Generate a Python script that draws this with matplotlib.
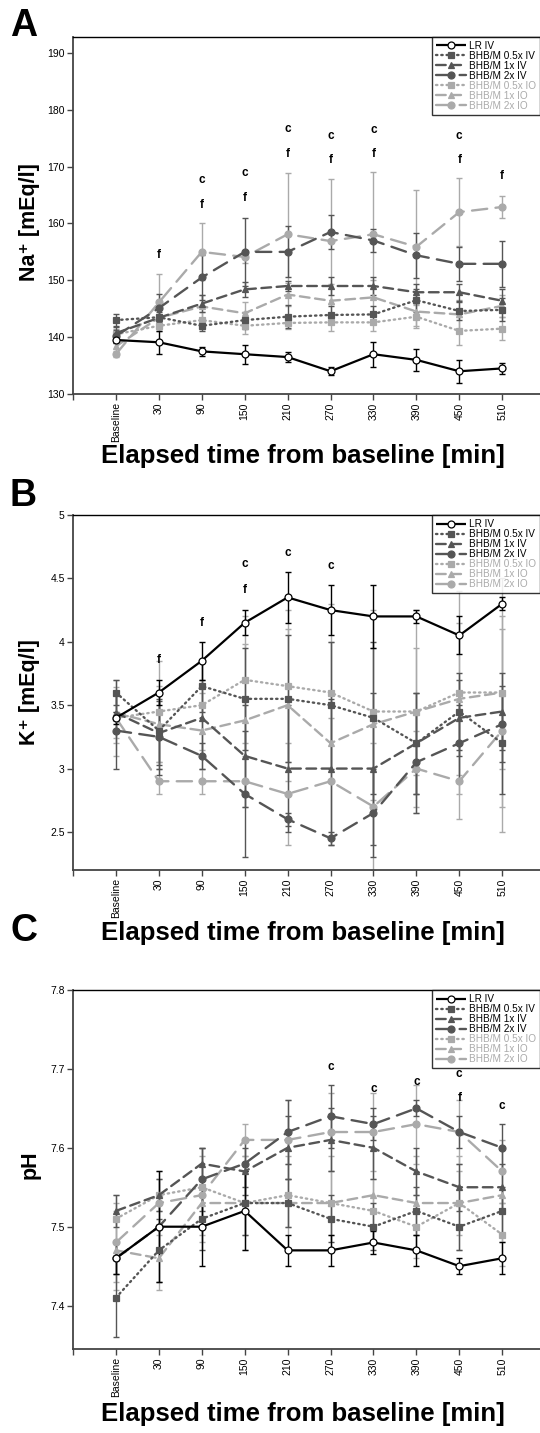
import matplotlib
matplotlib.use("Agg")
import matplotlib.pyplot as plt
import numpy as np

plt.rcParams['font.family'] = ['Liberation Sans', 'DejaVu Sans']
plt.rcParams['lines.scale_dashes'] = False

# ---------------- data ----------------
time_labels = ["Baseline", "30", "90", "150", "210", "270", "330", "390", "450", "510"]
series_names = ["LR IV", "BHB/M 0.5x IV", "BHB/M 1x IV", "BHB/M 2x IV",
                "BHB/M 0.5x IO", "BHB/M 1x IO", "BHB/M 2x IO"]

# Panel A: Na+
na_lr = [139.5, 139.1, 137.5, 137.0, 136.5, 134.0, 137.0, 136.0, 134.0, 134.5]
na_iv05 = [143.0, 143.5, 142.0, 143.0, 143.6, 143.9, 144.0, 146.5, 144.6, 144.8]
na_iv1 = [140.7, 143.4, 145.9, 148.4, 149.0, 149.0, 149.0, 147.9, 147.9, 146.4]
na_iv2 = [140.2, 145.1, 150.5, 155.0, 155.0, 158.5, 157.0, 154.4, 152.9, 152.9]
na_io05 = [140.5, 142.0, 143.0, 142.0, 142.5, 142.6, 142.6, 143.6, 141.1, 141.5]
na_io1 = [138.4, 143.4, 145.4, 144.2, 147.5, 146.4, 147.0, 144.5, 144.0, 145.5]
na_io2 = [137.0, 146.1, 155.0, 154.1, 158.1, 156.9, 158.1, 155.9, 162.0, 162.9]
na_lr_err = [0.5, 2.0, 0.8, 1.7, 0.9, 0.7, 2.2, 2.0, 2.0, 1.0]
na_iv05_err = [1.0, 1.0, 1.0, 1.5, 2.0, 1.5, 1.5, 2.0, 1.5, 2.0]
na_iv1_err = [1.0, 1.5, 1.5, 1.3, 0.8, 1.5, 1.5, 1.5, 1.5, 2.0]
na_iv2_err = [1.0, 2.5, 4.0, 6.0, 4.5, 3.0, 2.0, 4.0, 3.0, 4.0]
na_io05_err = [1.0, 1.0, 1.5, 1.5, 1.0, 1.5, 1.5, 2.0, 2.5, 2.0]
na_io1_err = [1.5, 2.0, 2.0, 2.0, 2.0, 3.0, 3.0, 2.5, 2.5, 2.0]
na_io2_err = [0.5, 5.0, 5.0, 1.0, 10.8, 11.0, 11.0, 10.0, 6.0, 2.0]
na_ann_idx = [1, 2, 2, 3, 3, 4, 4, 5, 5, 6, 6, 8, 8, 9]
na_ann_txt = ["f", "c", "f", "c", "f", "c", "f", "c", "f", "c", "f", "c", "f", "f"]
na_ann_val = [154.4, 167.6, 163.3, 168.8, 164.4, 176.7, 172.3, 175.4, 171.1, 176.5, 172.2, 175.4, 171.2, 168.4]

# Panel B: K+
k_lr = [3.4, 3.6, 3.85, 4.15, 4.35, 4.25, 4.2, 4.2, 4.05, 4.3]
k_iv05 = [3.6, 3.3, 3.65, 3.55, 3.55, 3.5, 3.4, 3.2, 3.45, 3.2]
k_iv1 = [3.44, 3.28, 3.4, 3.1, 3.0, 3.0, 3.0, 3.2, 3.4, 3.45]
k_iv2 = [3.3, 3.25, 3.1, 2.8, 2.6, 2.45, 2.65, 3.05, 3.2, 3.35]
k_io05 = [3.4, 3.45, 3.5, 3.7, 3.65, 3.6, 3.45, 3.45, 3.6, 3.6]
k_io1 = [3.44, 3.35, 3.3, 3.38, 3.5, 3.2, 3.35, 3.45, 3.55, 3.6]
k_io2 = [3.4, 2.9, 2.9, 2.9, 2.8, 2.9, 2.7, 3.0, 2.9, 3.3]
k_lr_err = [0.05, 0.1, 0.15, 0.1, 0.2, 0.2, 0.25, 0.05, 0.15, 0.05]
k_iv05_err = [0.1, 0.3, 0.2, 0.4, 0.5, 0.5, 0.6, 0.4, 0.3, 0.4]
k_iv1_err = [0.15, 0.25, 0.3, 0.4, 0.5, 0.55, 0.6, 0.4, 0.3, 0.3]
k_iv2_err = [0.3, 0.3, 0.1, 0.5, 0.05, 0.05, 0.35, 0.4, 0.3, 0.3]
k_io05_err = [0.3, 0.4, 0.35, 0.5, 0.6, 0.7, 0.8, 0.8, 0.8, 0.9]
k_io1_err = [0.2, 0.3, 0.3, 0.6, 0.6, 0.8, 0.6, 0.5, 0.6, 0.6]
k_io2_err = [0.2, 0.1, 0.1, 0.2, 0.4, 0.5, 0.5, 0.3, 0.3, 0.8]
k_ann_idx = [1, 2, 3, 3, 4, 5]
k_ann_txt = ["f", "f", "c", "f", "c", "c"]
k_ann_val = [3.86, 4.15, 4.61, 4.41, 4.70, 4.60]

# Panel C: pH
ph_lr = [7.46, 7.50, 7.50, 7.52, 7.47, 7.47, 7.48, 7.47, 7.45, 7.46]
ph_iv05 = [7.41, 7.47, 7.51, 7.53, 7.53, 7.51, 7.50, 7.52, 7.50, 7.52]
ph_iv1 = [7.52, 7.54, 7.58, 7.57, 7.60, 7.61, 7.60, 7.57, 7.55, 7.55]
ph_iv2 = [7.46, 7.50, 7.56, 7.58, 7.62, 7.64, 7.63, 7.65, 7.62, 7.60]
ph_io05 = [7.51, 7.54, 7.55, 7.53, 7.54, 7.53, 7.52, 7.50, 7.53, 7.49]
ph_io1 = [7.47, 7.46, 7.53, 7.53, 7.53, 7.53, 7.54, 7.53, 7.53, 7.54]
ph_io2 = [7.48, 7.53, 7.54, 7.61, 7.61, 7.62, 7.62, 7.63, 7.62, 7.57]
ph_lr_err = [0.02, 0.07, 0.05, 0.05, 0.02, 0.02, 0.015, 0.02, 0.01, 0.02]
ph_iv05_err = [0.05, 0.04, 0.04, 0.04, 0.03, 0.03, 0.03, 0.03, 0.03, 0.03]
ph_iv1_err = [0.02, 0.02, 0.02, 0.03, 0.04, 0.04, 0.04, 0.03, 0.03, 0.03]
ph_iv2_err = [0.02, 0.03, 0.04, 0.03, 0.04, 0.04, 0.02, 0.01, 0.02, 0.03]
ph_io05_err = [0.03, 0.02, 0.05, 0.04, 0.04, 0.04, 0.04, 0.04, 0.04, 0.04]
ph_io1_err = [0.05, 0.04, 0.05, 0.06, 0.06, 0.06, 0.06, 0.06, 0.06, 0.06]
ph_io2_err = [0.05, 0.04, 0.05, 0.02, 0.05, 0.05, 0.05, 0.05, 0.04, 0.04]
ph_ann_idx = [5, 6, 7, 8, 8, 9]
ph_ann_txt = ["c", "c", "c", "c", "f", "c"]
ph_ann_val = [7.703, 7.674, 7.684, 7.693, 7.663, 7.653]

# ---------------- styles ----------------
DARK = "#555555"
LIGHT = "#aaaaaa"
styles = [
    dict(color="black", marker="o", ls="-", mfc="white", mec="black", lw=1.6, ms=5),
    dict(color=DARK, marker="s", ls=(0, (1, 2.8)), mfc=DARK, mec=DARK, lw=1.7, ms=5),
    dict(color=DARK, marker="^", ls=(0, (7, 4)), mfc=DARK, mec=DARK, lw=1.7, ms=5),
    dict(color=DARK, marker="o", ls=(0, (11, 6)), mfc=DARK, mec=DARK, lw=1.7, ms=5),
    dict(color=LIGHT, marker="s", ls=(0, (1, 2.8)), mfc=LIGHT, mec=LIGHT, lw=1.7, ms=5),
    dict(color=LIGHT, marker="^", ls=(0, (7, 4)), mfc=LIGHT, mec=LIGHT, lw=1.7, ms=5),
    dict(color=LIGHT, marker="o", ls=(0, (11, 6)), mfc=LIGHT, mec=LIGHT, lw=1.7, ms=5),
]
text_colors = ["black", "black", "black", "black", LIGHT, LIGHT, LIGHT]

fig = plt.figure(figsize=(5.4, 14.33), dpi=100)
W, H = 540.0, 1433.0


def make_axes(top_px, bottom_px, left_px=73, right_px=540):
    return fig.add_axes([left_px / W, 1 - bottom_px / H,
                         (right_px - left_px) / W, (bottom_px - top_px) / H])


panels = [
    dict(top=37, bottom=394, ylim=(130, 192.8), yticks=[130, 140, 150, 160, 170, 180, 190],
         yticklabels=["130", "140", "150", "160", "170", "180", "190"],
         ylabel="Na⁺ [mEq/l]", ylabel_y=222, letter="A", letter_y=8,
         data=[na_lr, na_iv05, na_iv1, na_iv2, na_io05, na_io1, na_io2],
         err=[na_lr_err, na_iv05_err, na_iv1_err, na_iv2_err, na_io05_err, na_io1_err, na_io2_err],
         ann=(na_ann_idx, na_ann_txt, na_ann_val), xlabel_y=456),
    dict(top=515, bottom=870, ylim=(2.2, 5.0), yticks=[2.5, 3, 3.5, 4, 4.5, 5],
         yticklabels=["2.5", "3", "3.5", "4", "4.5", "5"],
         ylabel="K⁺ [mEq/l]", ylabel_y=692, letter="B", letter_y=478,
         data=[k_lr, k_iv05, k_iv1, k_iv2, k_io05, k_io1, k_io2],
         err=[k_lr_err, k_iv05_err, k_iv1_err, k_iv2_err, k_io05_err, k_io1_err, k_io2_err],
         ann=(k_ann_idx, k_ann_txt, k_ann_val), xlabel_y=933),
    dict(top=990, bottom=1349, ylim=(7.345, 7.8), yticks=[7.4, 7.5, 7.6, 7.7, 7.8],
         yticklabels=["7.4", "7.5", "7.6", "7.7", "7.8"],
         ylabel="pH", ylabel_y=1165, letter="C", letter_y=913,
         data=[ph_lr, ph_iv05, ph_iv1, ph_iv2, ph_io05, ph_io1, ph_io2],
         err=[ph_lr_err, ph_iv05_err, ph_iv1_err, ph_iv2_err, ph_io05_err, ph_io1_err, ph_io2_err],
         ann=(ph_ann_idx, ph_ann_txt, ph_ann_val), xlabel_y=1414),
]

x = np.arange(len(time_labels))

for p in panels:
    ax = make_axes(p["top"], p["bottom"])
    order = [6, 5, 4, 3, 2, 1, 0]
    hmap = {}
    for i in order:
        st = styles[i]
        ax.errorbar(x, p["data"][i], yerr=p["err"][i], fmt="none", ecolor=st["color"],
                    elinewidth=1.0, capsize=2.2, capthick=1.0, zorder=2 + (6 - i) * 0.1)
        ln, = ax.plot(x, p["data"][i], color=st["color"], ls=st["ls"], lw=st["lw"],
                      marker=st["marker"], ms=st["ms"], mfc=st["mfc"], mec=st["mec"],
                      mew=0.9, dash_capstyle="round", solid_capstyle="butt",
                      label=series_names[i], zorder=3 + (6 - i) * 0.1)
        hmap[i] = ln
    idx, txt, val = p["ann"]
    for xi, t, v in zip(idx, txt, val):
        ax.text(x[xi], v, t, ha="center", va="center", fontsize=8.5, fontweight="bold",
                zorder=10)

    ax.set_xlim(-1, 9.88)
    ax.set_ylim(*p["ylim"])
    ax.set_xticks([-1] + list(x))
    ax.set_xticklabels([""] + time_labels, rotation=90, fontsize=7.5)
    ax.set_yticks(p["yticks"])
    ax.set_yticklabels(p["yticklabels"], fontsize=7.5)
    ax.tick_params(axis="both", direction="out", length=4, width=1, colors="#444444",
                   labelcolor="black", pad=2)
    for s in ["left", "bottom"]:
        ax.spines[s].set_color("#444444")
        ax.spines[s].set_linewidth(1.3)
    ax.spines["top"].set_color("black")
    ax.spines["top"].set_linewidth(1.0)
    ax.spines["right"].set_visible(False)

    leg = ax.legend([hmap[i] for i in range(7)], series_names, loc="upper right",
                    bbox_to_anchor=(1.0, 1.0), fontsize=7.2, frameon=True, fancybox=False,
                    borderaxespad=0, handlelength=3.0, handletextpad=0.3,
                    labelspacing=0.0, borderpad=0.4, edgecolor="black")
    leg.get_frame().set_linewidth(1.0)
    leg.set_zorder(8)
    for t, c in zip(leg.get_texts(), text_colors):
        t.set_color(c)

    fig.text(30 / W, 1 - p["ylabel_y"] / H, p["ylabel"], rotation=90,
             ha="center", va="center", fontsize=15.5, fontweight="bold")
    fig.text(303 / W, 1 - p["xlabel_y"] / H, "Elapsed time from baseline [min]",
             ha="center", va="center", fontsize=18.5, fontweight="bold")
    fig.text(10 / W, 1 - p["letter_y"] / H, p["letter"], ha="left", va="top",
             fontsize=27, fontweight="bold")

fig.savefig("out.png", dpi=100)
